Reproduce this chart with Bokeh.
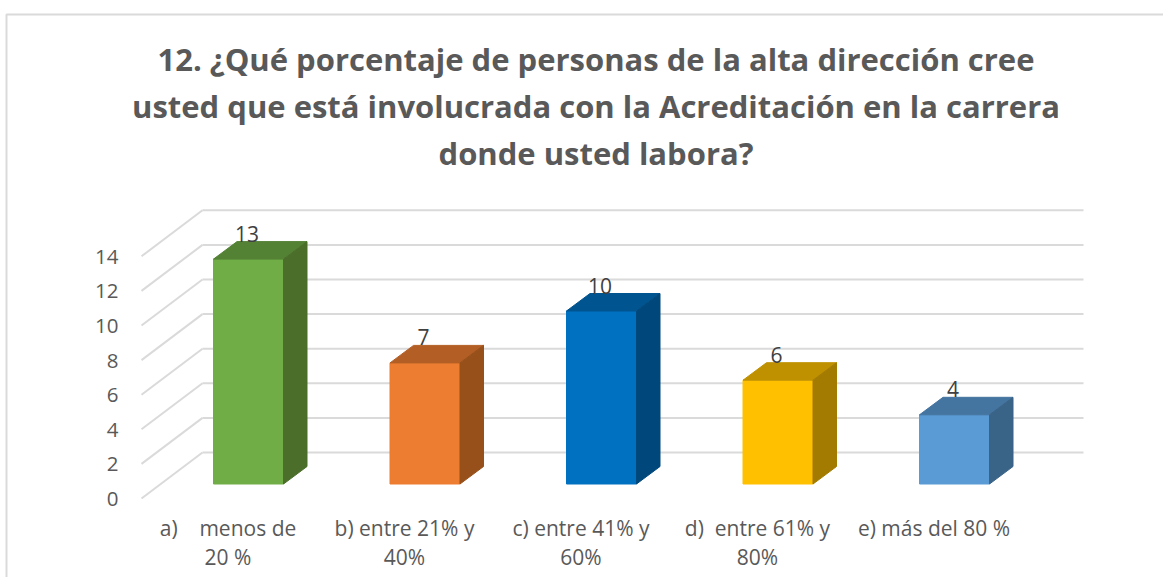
from bokeh.plotting import figure
from bokeh.models import Range1d
from bokeh.core.properties import value
from bokeh.embed import file_html
from bokeh.resources import INLINE

title_lines = ["12. ¿Qué porcentaje de personas de la alta dirección cree",
               "usted que está involucrada con la Acreditación en la carrera",
               "donde usted labora?"]
cat_line1 = ["a)\u00a0\u00a0\u00a0\u00a0menos de", "b) entre 21% y", "c) entre 41% y", "d)\u00a0\u00a0entre 61% y", "e) más del 80 %"]
cat_line2 = ["20 %", "40%", "60%", "80%", ""]
values = [13, 7, 10, 6, 4]
ticks = [0, 2, 4, 6, 8, 10, 12, 14]
front = ["#70AD47", "#ED7D31", "#0070C0", "#FFC000", "#5B9BD5"]
top = ["#548235", "#B35E25", "#005490", "#BF9000", "#4474A0"]
side = ["#4B6F2B", "#975019", "#00487B", "#A37B00", "#3A6388"]

W, H = 1163, 577
PX = 176.5           # px per category
PY = 17.3            # px per value unit
X0 = 248.0           # px of first category centre
Y0 = 483.5           # px of the value 0 bar base

px = lambda x: (x - X0) / PX
py = lambda y: (Y0 - y) / PY

p = figure(width=W, height=H, output_backend="svg", toolbar_location=None,
           x_range=Range1d(-X0 / PX, (W - X0) / PX),
           y_range=Range1d((Y0 - H) / PY, Y0 / PY),
           min_border=0, outline_line_color=None)
p.axis.visible = False
p.grid.visible = False
p.background_fill_color = "white"

GRID = "#DADADA"
# chart box
p.line([px(1171), px(6), px(6)], [py(14), py(14), py(585)], line_color=GRID, line_width=2)

# walls
fx, bx, rx = px(141), px(202), px(1083)
fo, bo = py(498), py(452)
p.multi_line([[fx, bx] for t in ticks], [[fo + t, bo + t] for t in ticks], line_color=GRID, line_width=2)
p.multi_line([[bx, rx] for t in ticks], [[bo + t, bo + t] for t in ticks], line_color=GRID, line_width=2)

# bars
hw = 35.0 / PX
dx, dy = 23.5 / PX, 17.5 / PY
idx = list(range(len(values)))
p.quad(left=[i - hw for i in idx], right=[i + hw for i in idx], bottom=0, top=values,
       fill_color=front, line_color=front, line_width=1)
p.patches([[i - hw, i + hw, i + hw + dx, i - hw + dx] for i in idx],
          [[v, v, v + dy, v + dy] for v in values], fill_color=top, line_color=top, line_width=1)
p.patches([[i + hw, i + hw + dx, i + hw + dx, i + hw] for i in idx],
          [[0, dy, v + dy, v] for v in values], fill_color=side, line_color=side, line_width=1)

TXT = "#595959"
font = value("Open Sans")
# data labels
p.text(idx, values, text=[str(v) for v in values], text_font=font, text_font_size="21px",
       text_color="#404040", text_align="center", text_baseline="middle", x_offset=-1.5, y_offset=-25.5)
# tick labels
p.text([px(118)] * len(ticks), [fo + t for t in ticks], text=[str(t) for t in ticks], text_font=font,
       text_font_size="20.5px", text_color=TXT, text_align="right", text_baseline="middle", y_offset=0.5)
# category labels
cx = [i - 20.5 / PX for i in idx]
p.text(cx, [py(527.5)] * 5, text=cat_line1, text_font=font, text_font_size="21px", text_color=TXT,
       text_align="center", text_baseline="middle")
p.text(cx, [py(556.5)] * 5, text=cat_line2, text_font=font, text_font_size="21px", text_color=TXT,
       text_align="center", text_baseline="middle")
# title
p.text([px(595.5)] * 3, [py(58.5), py(105.5), py(152.5)], text=title_lines, text_font=font, text_font_size="31px",
       text_font_style="bold", text_color=TXT, text_align="center", text_baseline="middle")

open("out.html", "w").write(file_html(p, INLINE))
